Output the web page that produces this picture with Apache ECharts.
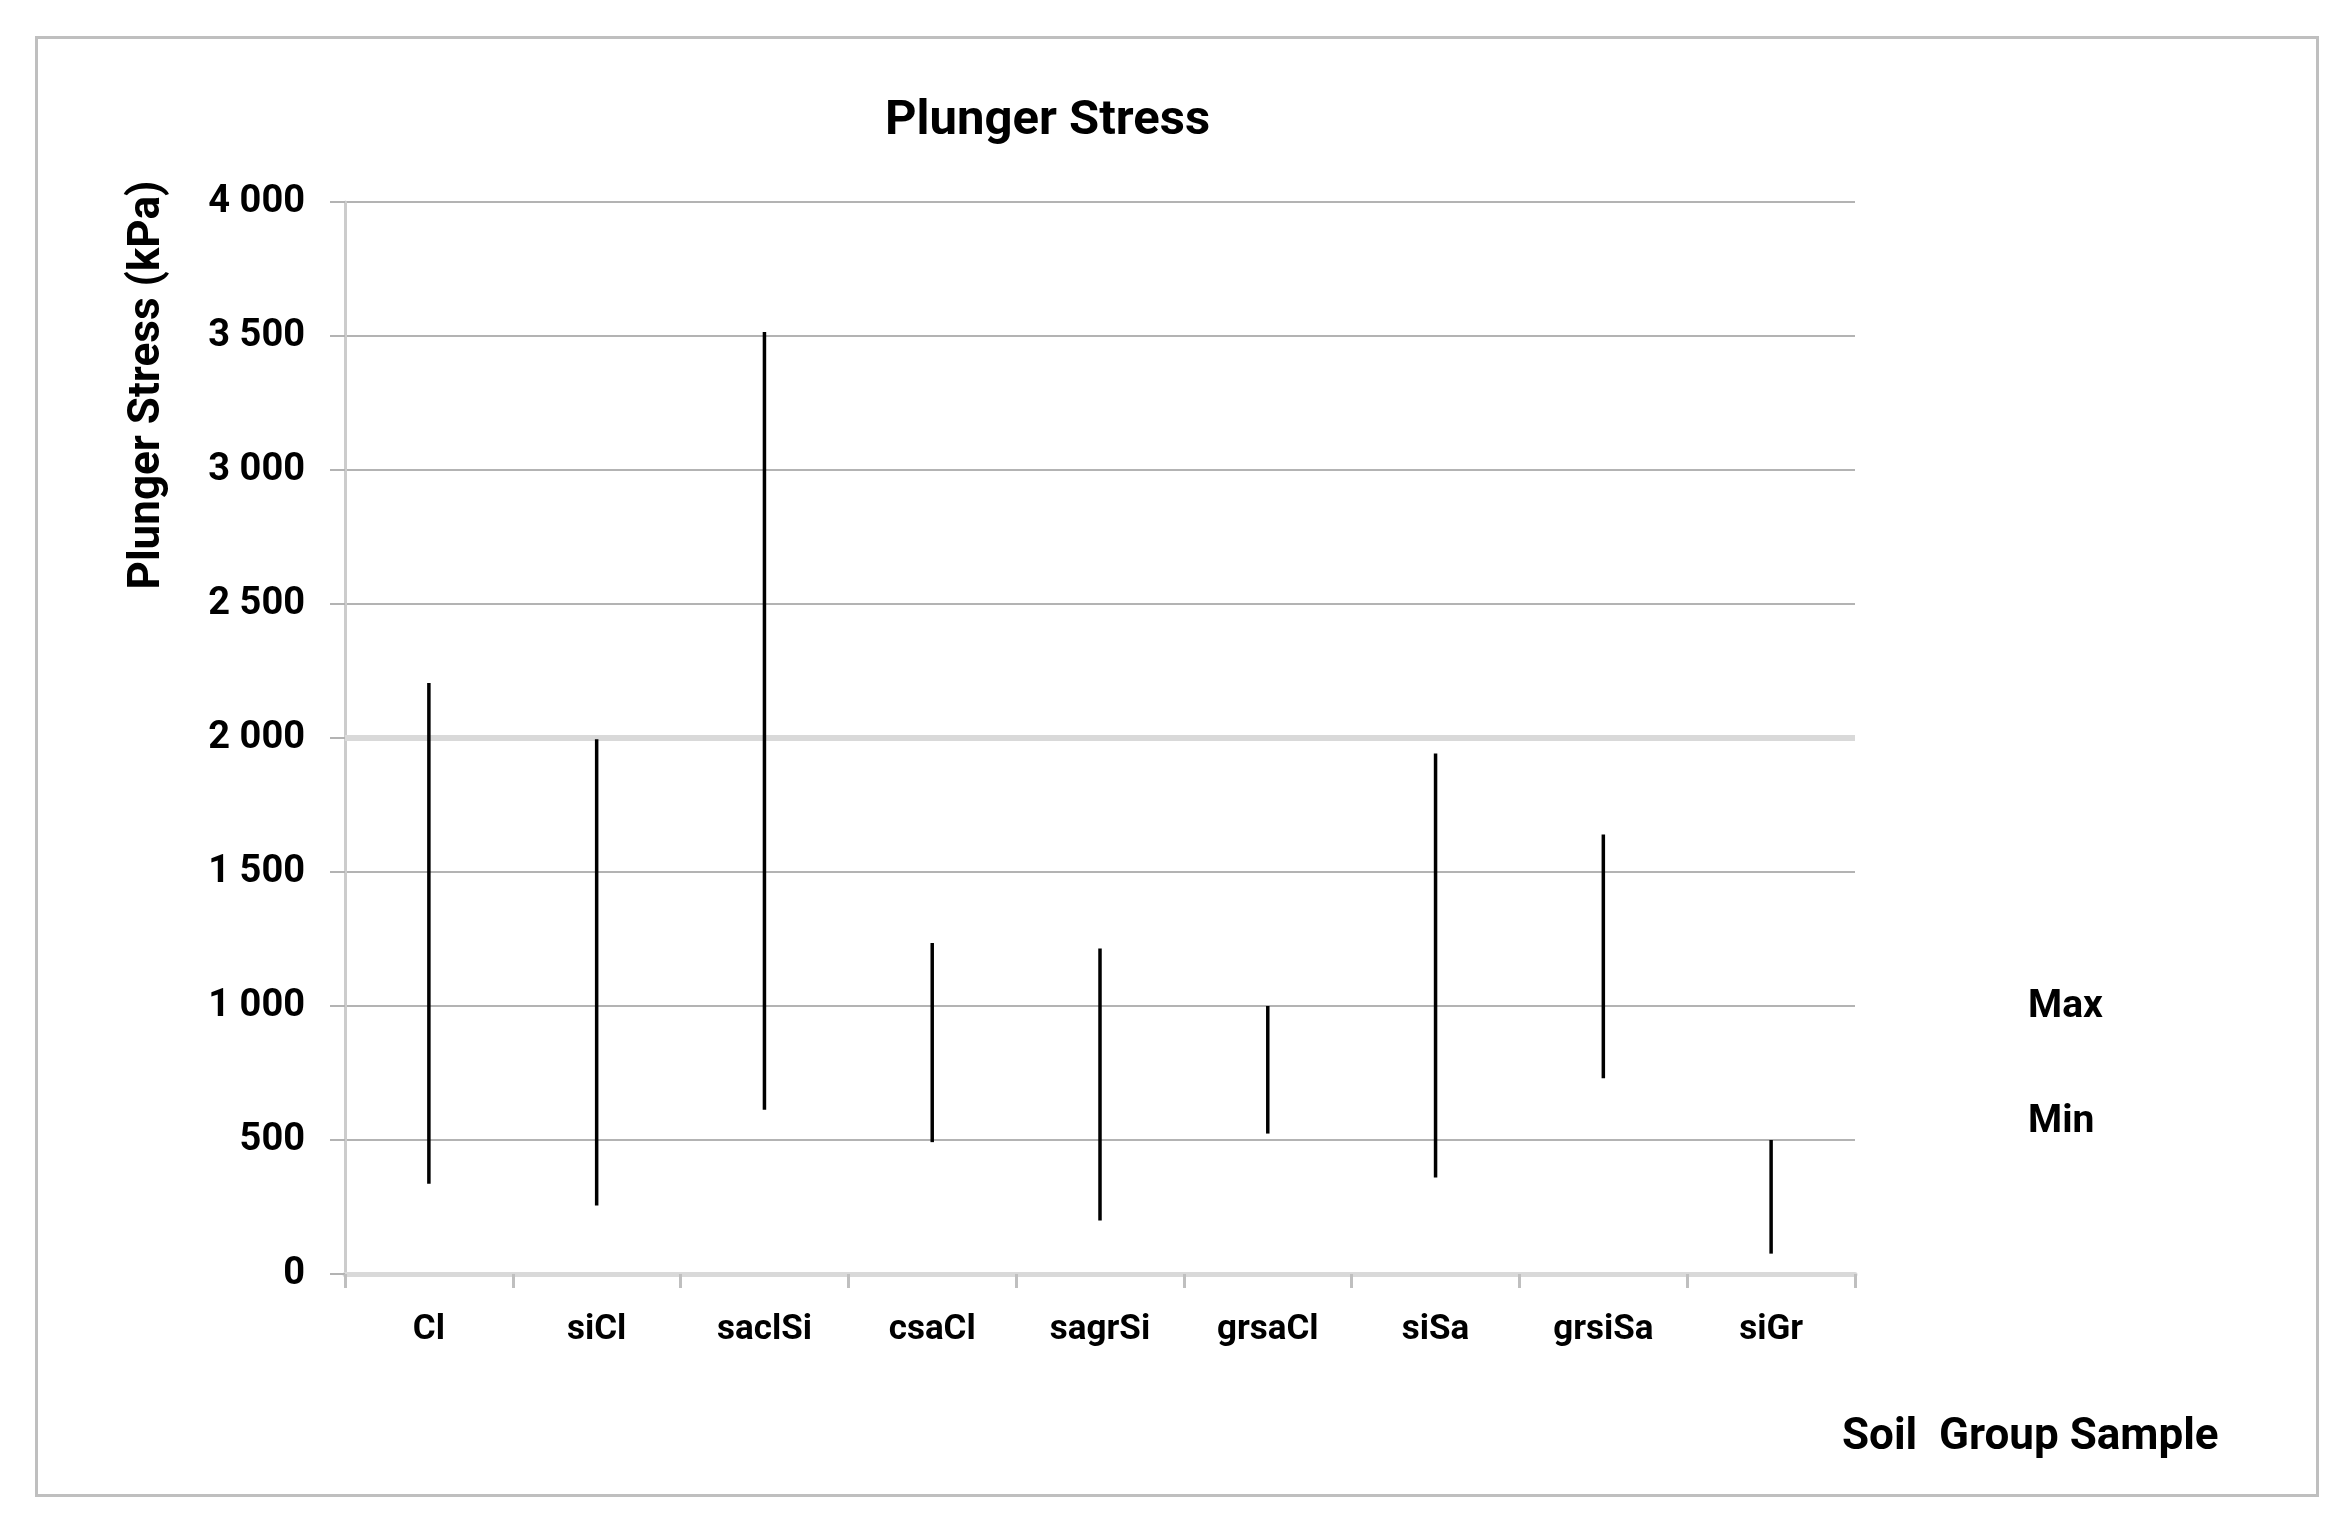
<!DOCTYPE html>
<html>
<head>
<meta charset="utf-8">
<script src="https://cdn.jsdelivr.net/npm/echarts@6/dist/echarts.min.js"></script>
<style>
html,body{margin:0;padding:0;background:#fff;}
#chart{width:2352px;height:1527px;}
</style>
</head>
<body>
<div id="chart"></div>
<script>
var categories = ['Cl', 'siCl', 'saclSi', 'csaCl', 'sagrSi', 'grsaCl', 'siSa', 'grsiSa', 'siGr'];
var maxValues = [2205, 1995, 3515, 1235, 1215, 1000, 1942, 1640, 500];
var minValues = [337, 256, 613, 492, 200, 524, 360, 730, 76];
var yTicks = { min: 0, max: 4000, interval: 500 };
var titleText = 'Plunger Stress';
var yAxisTitle = 'Plunger Stress (kPa)';
var xAxisTitle = 'Soil  Group Sample';

var FONT = 'Roboto';

function fmt(v) {
  var s = String(v);
  if (s.length > 3) s = s.slice(0, s.length - 3) + ' ' + s.slice(s.length - 3);
  return s;
}

var rangeData = categories.map(function (c, i) { return [i, minValues[i], maxValues[i]]; });

var chart = echarts.init(document.getElementById('chart'), null, { renderer: 'canvas' });
chart.setOption({
  animation: false,
  backgroundColor: '#ffffff',
  title: {
    text: titleText,
    left: 880,
    top: 92,
    textStyle: { fontFamily: FONT, fontWeight: 'bold', fontSize: 49, color: '#000' }
  },
  legend: {
    orient: 'vertical',
    left: 2016,
    top: 983,
    itemGap: 76,
    itemWidth: 1,
    itemHeight: 1,
    itemStyle: { opacity: 0 },
    lineStyle: { opacity: 0 },
    data: ['Max', 'Min'],
    textStyle: { fontFamily: FONT, fontWeight: 'bold', fontSize: 39, color: '#000' },
    selectedMode: false
  },
  grid: { left: 345, right: 497, top: 202, bottom: 253, containLabel: false },
  xAxis: {
    type: 'category',
    data: categories,
    boundaryGap: true,
    axisLine: { show: true, lineStyle: { color: '#d9d9d9', width: 5 } },
    axisTick: { show: true, length: 14, lineStyle: { color: '#bfbfbf', width: 3 } },
    axisLabel: { margin: 39, fontFamily: FONT, fontWeight: 'bold', fontSize: 35, color: '#000' },
    splitLine: { show: false }
  },
  yAxis: {
    type: 'value',
    min: yTicks.min,
    max: yTicks.max,
    interval: yTicks.interval,
    axisLine: { show: true, lineStyle: { color: '#cccccc', width: 3 } },
    axisTick: { show: true, length: 15, lineStyle: { color: '#b3b3b3', width: 2 } },
    axisLabel: { margin: 40, fontFamily: FONT, fontWeight: 'bold', fontSize: 38, color: '#000', formatter: fmt },
    splitLine: { show: true, lineStyle: { color: '#b3b3b3', width: 2 } }
  },
  graphic: [
    {
      type: 'rect', left: 34, top: 35, silent: true, z: -10,
      shape: { width: 2281, height: 1458 },
      style: { fill: 'none', stroke: '#bfbfbf', lineWidth: 3 }
    },
    {
      type: 'text', x: 148, y: 385, rotation: Math.PI / 2, silent: true,
      style: { text: yAxisTitle, fontFamily: FONT, fontWeight: 'bold', fontSize: 44, fill: '#000', align: 'center', verticalAlign: 'middle' }
    },
    {
      type: 'text', x: 1842, y: 1438, silent: true,
      style: { text: xAxisTitle, fontFamily: FONT, fontWeight: 'bold', fontSize: 44, fill: '#000', align: 'left', verticalAlign: 'middle' }
    }
  ],
  series: [
    {
      name: 'Max', type: 'line', data: maxValues, symbol: 'none', silent: true,
      lineStyle: { opacity: 0 }, itemStyle: { opacity: 0 },
      markLine: {
        silent: true, symbol: 'none', label: { show: false },
        lineStyle: { color: '#d9d9d9', width: 6, type: 'solid' },
        data: [{ yAxis: 2000 }]
      },
      z: 1
    },
    {
      name: 'Min', type: 'line', data: minValues, symbol: 'none', silent: true,
      lineStyle: { opacity: 0 }, itemStyle: { opacity: 0 }, z: 1
    },
    {
      name: 'HighLow', type: 'custom', data: rangeData, silent: true, z: 5,
      renderItem: function (params, api) {
        var p1 = api.coord([api.value(0), api.value(1)]);
        var p2 = api.coord([api.value(0), api.value(2)]);
        return {
          type: 'line',
          shape: { x1: p1[0], y1: p1[1], x2: p2[0], y2: p2[1] },
          style: { stroke: '#000', lineWidth: 3.5 }
        };
      },
      encode: { x: 0, y: [1, 2] }
    }
  ]
});
</script>
</body>
</html>
